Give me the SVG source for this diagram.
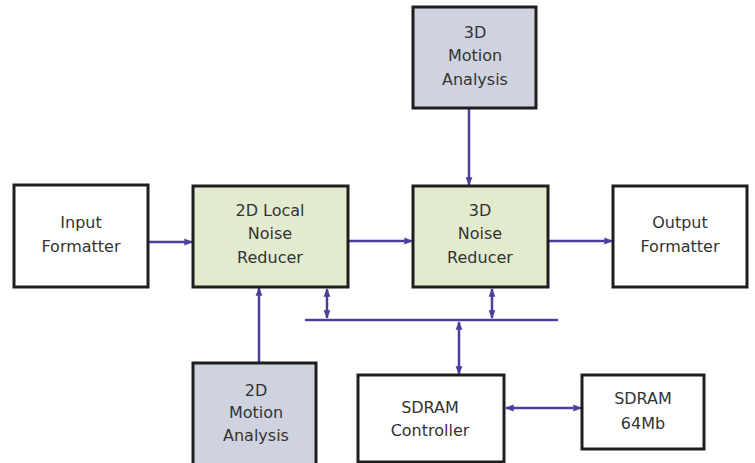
<svg xmlns="http://www.w3.org/2000/svg" width="755" height="463" viewBox="0 0 755 463">
  <defs>
    <marker id="ah" viewBox="0 0 10 10" refX="9" refY="5" markerWidth="3.4" markerHeight="3.4" orient="auto-start-reverse" markerUnits="strokeWidth">
      <path d="M0,1 L10,5 L0,9 Z" fill="#4a3f9a"/>
    </marker>
    <style>
      .box { stroke: #1e1e1e; stroke-width: 3; }
      .plain { fill: #ffffff; }
      .green { fill: #e3ebcf; }
      .grey { fill: #cfd3df; }
      .lbl { font-family: "DejaVu Sans", Verdana, sans-serif; font-size: 16px; fill: #333333; text-anchor: middle; }
      .wire { stroke: #4a3f9a; stroke-width: 2.5; fill: none; }
      .arrow { marker-end: url(#ah); }
      .both { marker-start: url(#ah); marker-end: url(#ah); }
    </style>
  </defs>
  <rect width="755" height="463" fill="#ffffff"/>

  <g id="connectors">
    <line class="wire arrow" x1="148" y1="242" x2="192" y2="242"/>
    <line class="wire arrow" x1="348" y1="241" x2="412" y2="241"/>
    <line class="wire arrow" x1="548" y1="241" x2="612" y2="241"/>
    <line class="wire arrow" x1="469" y1="108" x2="469" y2="185"/>
    <line class="wire arrow" x1="259" y1="363" x2="259" y2="288"/>
    <line class="wire" x1="305" y1="320" x2="558" y2="320"/>
    <line class="wire both" x1="327" y1="289" x2="327" y2="318"/>
    <line class="wire both" x1="492" y1="289" x2="492" y2="318"/>
    <line class="wire both" x1="459" y1="322" x2="459" y2="374"/>
    <line class="wire both" x1="506" y1="408" x2="581" y2="408"/>
  </g>

  <g id="input-formatter">
    <rect class="box plain" x="14" y="185" width="134" height="102"/>
    <text class="lbl" x="81" y="228">Input</text>
    <text class="lbl" x="81" y="252">Formatter</text>
  </g>

  <g id="local-noise-reducer-2d">
    <rect class="box green" x="193" y="186" width="155" height="101"/>
    <text class="lbl" x="270" y="216">2D Local</text>
    <text class="lbl" x="270" y="239">Noise</text>
    <text class="lbl" x="270" y="263">Reducer</text>
  </g>

  <g id="noise-reducer-3d">
    <rect class="box green" x="413" y="186" width="135" height="101"/>
    <text class="lbl" x="480" y="216">3D</text>
    <text class="lbl" x="480" y="239">Noise</text>
    <text class="lbl" x="480" y="263">Reducer</text>
  </g>

  <g id="output-formatter">
    <rect class="box plain" x="613" y="186" width="134" height="101"/>
    <text class="lbl" x="680" y="228">Output</text>
    <text class="lbl" x="680" y="252">Formatter</text>
  </g>

  <g id="motion-analysis-3d">
    <rect class="box grey" x="413" y="7" width="123" height="101"/>
    <text class="lbl" x="475" y="38">3D</text>
    <text class="lbl" x="475" y="61">Motion</text>
    <text class="lbl" x="475" y="85">Analysis</text>
  </g>

  <g id="motion-analysis-2d">
    <rect class="box grey" x="193" y="363" width="123" height="102"/>
    <text class="lbl" x="256" y="396">2D</text>
    <text class="lbl" x="256" y="418">Motion</text>
    <text class="lbl" x="256" y="441">Analysis</text>
  </g>

  <g id="sdram-controller">
    <rect class="box plain" x="358" y="375" width="146" height="87"/>
    <text class="lbl" x="430" y="413">SDRAM</text>
    <text class="lbl" x="430" y="436">Controller</text>
  </g>

  <g id="sdram-64mb">
    <rect class="box plain" x="582" y="375" width="122" height="74"/>
    <text class="lbl" x="643" y="404">SDRAM</text>
    <text class="lbl" x="643" y="429">64Mb</text>
  </g>
</svg>
